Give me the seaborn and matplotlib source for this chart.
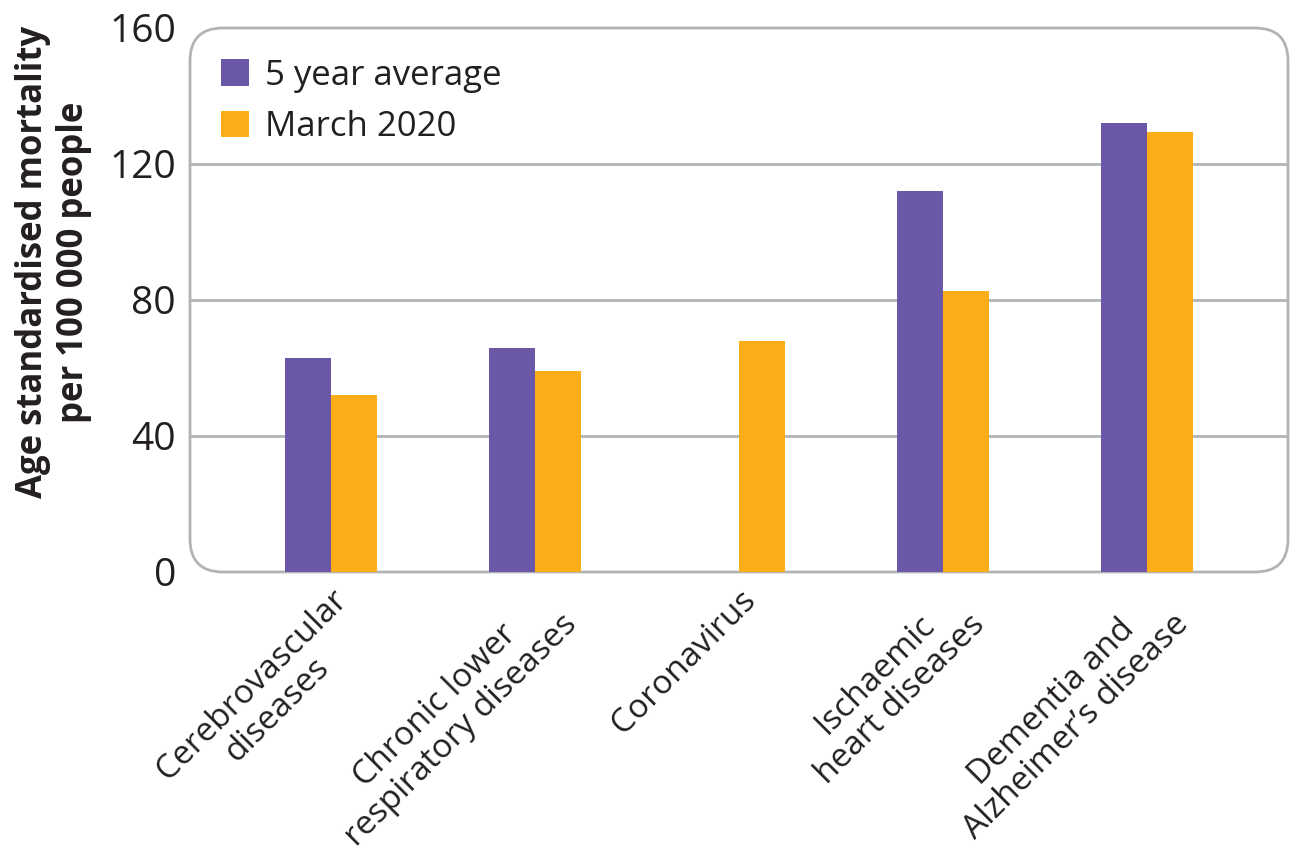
"""Mortality by cause: 5 year average vs March 2020."""
import pandas as pd
import matplotlib.pyplot as plt
import seaborn as sns
from matplotlib.patches import FancyBboxPatch

categories = [
    "Cerebrovascular\ndiseases",
    "Chronic lower\nrespiratory diseases",
    "Coronavirus",
    "Ischaemic\nheart diseases",
    "Dementia and\nAlzheimer\u2019s disease",
]
five_year_avg = [63, 66, 0, 112, 132]
march_2020 = [52, 59, 68, 82.5, 129.5]
series_names = ["5 year average", "March 2020"]
colors = ["#6a57a5", "#fbae17"]
y_ticks = [0, 40, 80, 120, 160]

df = pd.DataFrame({
    "cause": categories * 2,
    "value": five_year_avg + march_2020,
    "series": [series_names[0]] * 5 + [series_names[1]] * 5,
})

sns.set_style("white")
plt.rcParams["font.family"] = ["Open Sans", "DejaVu Sans"]

fig = plt.figure(figsize=(12.92, 8.61), dpi=100)
ax = fig.add_axes([190 / 1292, 1 - 572 / 861, (1288 - 190) / 1292, (572 - 28) / 861])

sns.barplot(data=df, x="cause", y="value", hue="series", palette=colors,
            width=0.45, gap=0, saturation=1, linewidth=0, ax=ax, zorder=3)

ax.set_xlim(-0.69, 4.69)
ax.set_ylim(0, 160)
ax.set_yticks(y_ticks)
ax.set_yticklabels([str(t) for t in y_ticks], fontsize=28, color="#231f20")
ax.tick_params(axis="y", length=0, pad=10)
ax.tick_params(axis="x", length=0, pad=8)
for sp in ax.spines.values():
    sp.set_visible(False)

for t in [40, 80, 120]:
    ax.axhline(t, color="#b1b3b6", lw=2, zorder=1)

box = FancyBboxPatch((0, 0), 1, 1, boxstyle="round,pad=0,rounding_size=0.03",
                     transform=ax.transAxes, fill=False, edgecolor="#b1b3b6",
                     lw=2, zorder=2, clip_on=False, mutation_aspect=1098 / 544)
ax.add_patch(box)

ax.set_xticks(range(len(categories)))
ax.set_xticklabels(categories, rotation=45, ha="right", rotation_mode="anchor",
                   multialignment="center", fontsize=24, linespacing=1.1,
                   color="#231f20")
ax.set_xlabel("")
ax.set_ylabel("Age standardised mortality\nper 100 000 people", fontsize=25,
              fontweight="bold", color="#231f20")
ax.yaxis.set_label_coords(-0.089, 0.57)

leg = ax.legend(loc="upper left", frameon=False, fontsize=25, handlelength=0.8,
                handleheight=0.8, handletextpad=0.45, labelspacing=0.5,
                borderaxespad=0, bbox_to_anchor=(0.016, 0.969))
for txt in leg.get_texts():
    txt.set_color("#231f20")

plt.savefig("out.png", dpi=100)
plt.close()
